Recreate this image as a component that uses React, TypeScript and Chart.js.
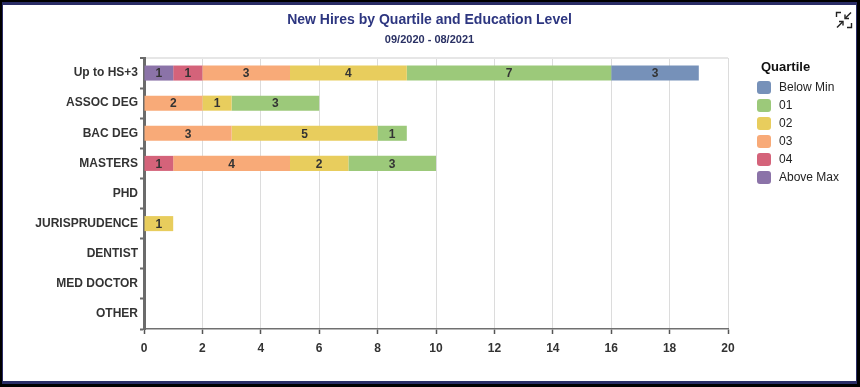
import React, { useEffect, useRef } from 'react';
import { Chart, registerables } from 'chart.js';

Chart.register(...registerables);

const FONT = '"Liberation Sans", Arial, Helvetica, sans-serif';

const categories = ['Up to HS+3', 'ASSOC DEG', 'BAC DEG', 'MASTERS', 'PHD', 'JURISPRUDENCE', 'DENTIST', 'MED DOCTOR', 'OTHER'];

// series values per category (same order as categories)
const belowMin = [3, 0, 0, 0, 0, 0, 0, 0, 0];
const q01 = [7, 3, 1, 3, 0, 0, 0, 0, 0];
const q02 = [4, 1, 5, 2, 0, 1, 0, 0, 0];
const q03 = [3, 2, 3, 4, 0, 0, 0, 0, 0];
const q04 = [1, 0, 0, 1, 0, 0, 0, 0, 0];
const aboveMax = [1, 0, 0, 0, 0, 0, 0, 0, 0];

// legend order (top to bottom)
const seriesNames = ['Below Min', '01', '02', '03', '04', 'Above Max'];
const seriesValues = [belowMin, q01, q02, q03, q04, aboveMax];
const seriesColors = ['#7691b9', '#9cc97a', '#e8cd5d', '#f8aa78', '#d4637a', '#8b73a8'];

const xMin = 0;
const xMax = 20;
const xStep = 2;

const chartTitle = 'New Hires by Quartile and Education Level';
const chartSubtitle = '09/2020 - 08/2021';
const legendTitle = 'Quartile';

const valueLabels = {
  id: 'valueLabels',
  afterDatasetsDraw(chart: any) {
    const ctx = chart.ctx;
    ctx.save();
    ctx.font = `bold 12px ${FONT}`;
    ctx.fillStyle = '#333333';
    ctx.textAlign = 'center';
    ctx.textBaseline = 'middle';
    chart.data.datasets.forEach((ds: any, i: number) => {
      const meta = chart.getDatasetMeta(i);
      meta.data.forEach((el: any, j: number) => {
        const v = ds.data[j];
        if (!v) return;
        const p = el.getProps(['x', 'y', 'base'], true);
        ctx.fillText(String(v), (p.x + p.base) / 2, p.y + 1);
      });
    });
    ctx.restore();
  },
};

function ChartCanvas() {
  const ref = useRef<HTMLCanvasElement | null>(null);
  useEffect(() => {
    if (!ref.current) return;
    // stacking order: Above Max at the base, Below Min at the end
    const order = [5, 4, 3, 2, 1, 0];
    const datasets = order.map((k) => ({
      label: seriesNames[k],
      data: seriesValues[k],
      backgroundColor: seriesColors[k],
      borderWidth: 0,
      barPercentage: 0.5,
      categoryPercentage: 1,
    }));
    const chart = new Chart(ref.current, {
      type: 'bar',
      data: { labels: categories, datasets },
      plugins: [valueLabels],
      options: {
        indexAxis: 'y',
        responsive: false,
        animation: false,
        devicePixelRatio: 1,
        layout: { padding: 0 },
        plugins: {
          legend: { display: false },
          tooltip: { enabled: false },
          title: {
            display: true,
            text: chartTitle,
            color: '#2d3680',
            font: { family: FONT, size: 14, weight: 'bold' },
            padding: { top: 7, bottom: 0 },
          },
          subtitle: {
            display: true,
            text: chartSubtitle,
            color: '#2a3164',
            font: { family: FONT, size: 11, weight: 'bold' },
            padding: { top: 5, bottom: 11 },
          },
        },
        scales: {
          x: {
            type: 'linear',
            stacked: true,
            min: xMin,
            max: xMax,
            ticks: {
              stepSize: xStep,
              color: '#333333',
              font: { family: FONT, size: 12, weight: 'bold' },
              padding: 7,
            },
            grid: {
              color: '#dcdcdc',
              lineWidth: 1,
              tickColor: '#555555',
              tickLength: 5,
              tickWidth: 1.5,
            },
            border: { color: '#707070', width: 1.5 },
            afterFit: (s: any) => {
              s.height = 52;
            },
          },
          y: {
            type: 'category',
            stacked: true,
            ticks: {
              color: '#333333',
              font: { family: FONT, size: 12, weight: 'bold' },
              padding: 2,
            },
            grid: {
              offset: true,
              color: (c: any) => (c.index === 0 ? '#e6e6e6' : 'rgba(0,0,0,0)'),
              lineWidth: (c: any) => (c.index === 0 ? 2 : 1),
              tickColor: '#6b6b6b',
              tickLength: 4,
              tickWidth: 2,
            },
            border: { color: '#6b6b6b', width: 3 },
            afterFit: (s: any) => {
              s.width = 141;
            },
          },
          legendSpace: {
            type: 'linear',
            position: 'right',
            display: true,
            grid: { display: false, drawTicks: false },
            border: { display: false },
            ticks: { display: false },
            afterFit: (s: any) => {
              s.width = 128;
            },
          },
        },
      } as any,
    });
    return () => chart.destroy();
  }, []);
  return <canvas ref={ref} width={853} height={376} style={{ position: 'absolute', left: 0, top: 0, width: 853, height: 376 }} />;
}

function Legend() {
  return (
    <div style={{ position: 'absolute', left: 754, top: 52, fontFamily: FONT }}>
      <div style={{ position: 'absolute', left: 4, top: 1, height: 18, lineHeight: '18px', fontSize: 13, fontWeight: 'bold', color: '#111', whiteSpace: 'nowrap' }}>
        {legendTitle}
      </div>
      {seriesNames.map((name, i) => (
        <div key={name} style={{ position: 'absolute', left: 0, top: 21 + i * 18, height: 18, whiteSpace: 'nowrap' }}>
          <div style={{ position: 'absolute', left: 0, top: 3, width: 14, height: 13, borderRadius: 3, background: seriesColors[i] }} />
          <div style={{ position: 'absolute', left: 22, top: 0, height: 18, lineHeight: '18px', fontSize: 12, color: '#222' }}>{name}</div>
        </div>
      ))}
    </div>
  );
}

function ExpandIcon() {
  return (
    <svg width={18} height={18} viewBox="0 0 18 18" style={{ position: 'absolute', left: 832, top: 6 }}>
      <g fill="none" stroke="#222" strokeWidth={1.4}>
        <path d="M1.5 6 V1.5 H6" />
        <path d="M16 1.5 L10.5 7" />
        <path d="M10 3.5 V7.5 H14" />
        <path d="M2 16.5 L7.5 11" />
        <path d="M4 10.5 H8 V14.5" />
        <path d="M16.5 12 V16.5 H12" />
      </g>
    </svg>
  );
}

export default function App() {
  return (
    <div style={{ position: 'fixed', left: 0, top: 0, width: 860, height: 387, background: '#000', overflow: 'hidden' }}>
      <div style={{ position: 'absolute', left: 2, top: 2, width: 855, height: 382, background: '#2a2d66' }} />
      <div style={{ position: 'absolute', left: 3, top: 5, width: 853, height: 376, background: '#ffffff' }}>
        <ChartCanvas />
        <Legend />
        <ExpandIcon />
      </div>
    </div>
  );
}
